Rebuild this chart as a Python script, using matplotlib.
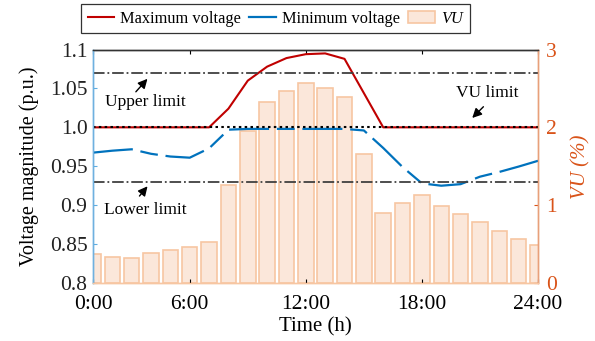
import matplotlib
matplotlib.use('Agg')
import matplotlib.pyplot as plt

plt.rcParams['font.family'] = ['Liberation Serif', 'DejaVu Serif']

# hourly data (hour index 1..24, axis labels 0:00..24:00)
hours = list(range(1, 25))
v_max = [1.0, 1.0, 1.0, 1.0, 1.0, 1.0, 1.0, 1.024, 1.060, 1.078, 1.089, 1.094,
         1.095, 1.088, 1.044, 1.0, 1.0, 1.0, 1.0, 1.0, 1.0, 1.0, 1.0, 1.0]
v_min = [0.9675, 0.970, 0.9718, 0.966, 0.9625, 0.961, 0.973, 0.997, 0.998, 0.998,
         0.998, 0.998, 0.998, 0.998, 0.996, 0.9735, 0.949, 0.928, 0.925, 0.927,
         0.9366, 0.9427, 0.9496, 0.957]
vu = [0.37, 0.33, 0.317, 0.386, 0.43, 0.458, 0.53, 1.26, 1.958, 2.32, 2.47, 2.575,
      2.50, 2.387, 1.654, 0.904, 1.032, 1.131, 0.99, 0.891, 0.788, 0.672, 0.569, 0.492]

upper_limit = 1.07
lower_limit = 0.93
vu_limit = 2.0

xtick_pos = [1, 6, 12, 18, 24]
xtick_labels = ['0:00', '6:00', '12:00', '18:00', '24:00']
ytick_pos = [0.8, 0.85, 0.9, 0.95, 1.0, 1.05, 1.1]
ytick_labels = ['0.8', '0.85', '0.9', '0.95', '1.0', '1.05', '1.1']

red = '#C00000'
blue = '#0072BD'
orange = '#D95319'

fig = plt.figure(figsize=(5.95, 3.41), dpi=100)
ax = fig.add_axes([0.1563, 0.1701, 0.7479, 0.6847])
ax2 = ax.twinx()
ax.set_zorder(ax2.get_zorder() + 1)
ax.patch.set_visible(False)

# VU bars on right axis
bars = ax2.bar(hours, vu, width=0.8, color='#FBE7DA', edgecolor='#F7C6A2',
               linewidth=1.2, label='VU')
ax2.set_ylim(0, 3)
ax2.set_yticks([0, 1, 2, 3])
ax2.tick_params(axis='y', direction='in', colors=orange, labelsize=15.5,
                length=3, pad=6)
ax2.set_ylabel('VU (%)', color=orange, fontsize=15, fontstyle='italic',
               labelpad=10)

# voltage lines
l1, = ax.plot(hours, v_max, color=red, lw=1.5, label='Maximum voltage')
l2, = ax.plot(hours, v_min, color=blue, lw=1.6, label='Minimum voltage')
l2.set_dashes([18, 3.5, 8, 3.5])
ax.axhline(upper_limit, color='#404040', lw=1.3, ls='-.')
ax.axhline(lower_limit, color='#404040', lw=1.3, ls='-.')
ax.axhline(1.0, color='black', lw=1.5, ls=(0, (1.2, 1.6)))

ax.set_xlim(1, 24)
ax.set_ylim(0.8, 1.1)
ax.set_xticks(xtick_pos)
ax.set_xticklabels(xtick_labels)
ax.set_yticks(ytick_pos)
ax.set_yticklabels(ytick_labels)
ax.tick_params(axis='both', direction='in', labelsize=15.5, length=3, pad=4)
ax.tick_params(axis='x', top=True, pad=9)
ax.tick_params(axis='y', colors='#5DADE2', labelcolor='#222222')
ax.set_xlabel('Time (h)', fontsize=15, labelpad=2)
ax.set_ylabel('Voltage magnitude (p.u.)', fontsize=14.5, labelpad=8)

for a in (ax, ax2):
    a.spines['left'].set_color('#6FB1E0')
    a.spines['right'].set_color('#E8A07A')
    a.spines['top'].set_color('#333333')
    a.spines['bottom'].set_color('#F7C6A2')
    for s in a.spines.values():
        s.set_linewidth(1.0)

# annotations
arrow = dict(arrowstyle='-|>', color='black', lw=1.0, mutation_scale=14)
ax.annotate('', xy=(3.91, 1.065), xytext=(3.12, 1.043), arrowprops=arrow)
ax.text(3.69, 1.033, 'Upper limit', fontsize=12.5, ha='center', va='center')
ax.annotate('', xy=(3.91, 0.927), xytext=(3.31, 0.909), arrowprops=arrow)
ax.text(3.69, 0.894, 'Lower limit', fontsize=12.5, ha='center', va='center')
ax.annotate('', xy=(20.5, 1.0095), xytext=(21.28, 1.029), arrowprops=arrow)
ax.text(21.4, 1.044, 'VU limit', fontsize=12.5, ha='center', va='center')

leg = fig.legend([l1, l2, bars], ['Maximum voltage', 'Minimum voltage', 'VU'],
                 loc='upper left', bbox_to_anchor=(81 / 595, 1 - 4 / 341),
                 ncol=3, fontsize=11.8, frameon=True, fancybox=False,
                 edgecolor='black', handlelength=1.6, handletextpad=0.4,
                 columnspacing=0.5, borderpad=0.4, borderaxespad=0)
leg.get_frame().set_linewidth(0.9)
leg.get_texts()[2].set_fontstyle('italic')
leg.get_lines()[1].set_linestyle('-')

fig.savefig('out.png', dpi=100)
